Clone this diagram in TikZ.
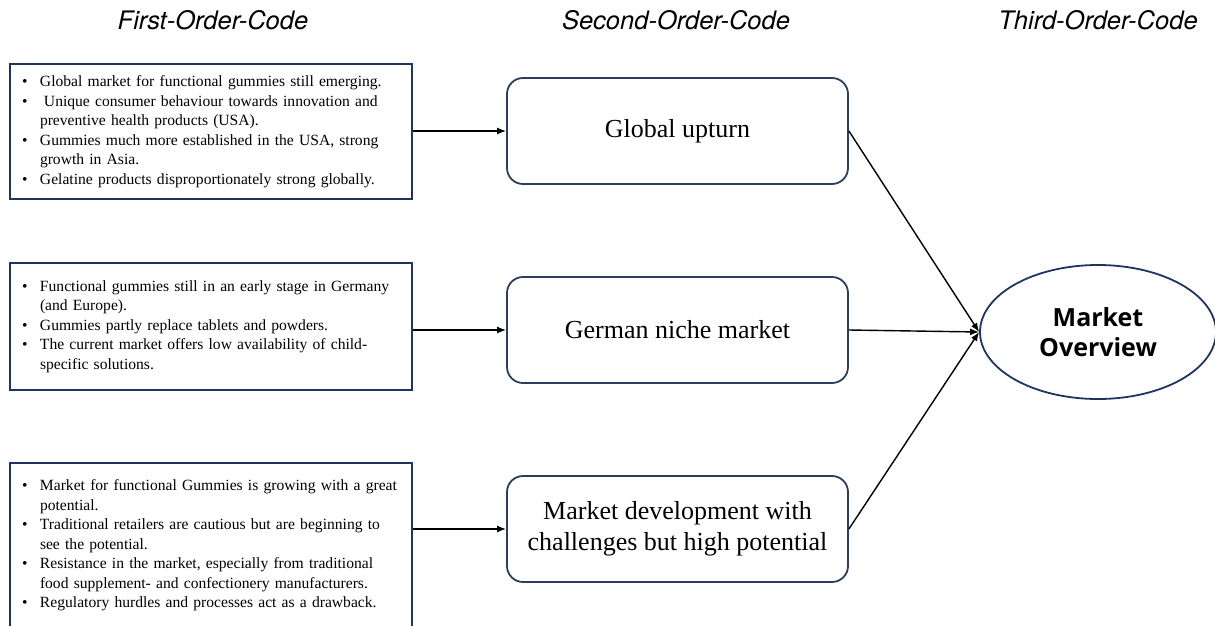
\documentclass[tikz,border=0pt]{standalone}
\usepackage{fontspec}
\setmainfont{Liberation Serif}
\newfontfamily\headfont{TeX Gyre Heros}
\newfontfamily\boldsans{Open Sans}
\usetikzlibrary{shapes.geometric,arrows.meta}

\definecolor{navy}{HTML}{1F3560}
\definecolor{slate}{HTML}{2C3D5E}

% bullet line and continuation line for the first-order boxes
\newcommand{\bul}[1]{\makebox[18pt][l]{\textbullet}#1}
\newcommand{\cont}[1]{\hspace*{18pt}#1}

\tikzset{
  head/.style={font=\headfont\itshape\fontsize{25.5}{30}\selectfont, inner sep=0pt},
  firstbox/.style={draw=navy, line width=1.8pt, text width=378pt, inner xsep=12pt,
    inner ysep=0pt, minimum width=402pt, align=left,
    font=\fontsize{15.6}{19.5}\selectfont},
  secondbox/.style={draw=slate, line width=1.8pt, rounded corners=16pt,
    minimum width=341pt, minimum height=106pt, align=center,
    font=\fontsize{26}{31}\selectfont},
  thirdnode/.style={draw=navy, line width=1.8pt, ellipse, minimum width=236pt,
    minimum height=134pt, inner sep=0pt, align=center,
    font=\boldsans\bfseries\fontsize{25}{30}\selectfont},
  conn/.style={line width=1.4pt, -{Latex[length=9pt,width=7pt]}}
}

\begin{document}
\begin{tikzpicture}[x=1pt, y=-1pt]
\useasboundingbox (0,0) rectangle (1215,625);

% column headings
\node[head] (h1) at (213,20) {First-Order-Code};
\node[head] (h2) at (676,20) {Second-Order-Code};
\node[head] (h3) at (1098,20) {Third-Order-Code};

% first-order codes
\node[firstbox, minimum height=135pt] (f1) at (211,131.5) {%
\bul{Global market for functional gummies still emerging.}\\
\bul{\hspace{4pt}Unique consumer behaviour towards innovation and}\\
\cont{preventive health products (USA).}\\
\bul{Gummies much more established in the USA, strong}\\
\cont{growth in Asia.}\\
\bul{Gelatine products disproportionately strong globally.}};

\node[firstbox, minimum height=127pt] (f2) at (211,326.5) {%
\bul{Functional gummies still in an early stage in Germany}\\
\cont{(and Europe).}\\
\bul{Gummies partly replace tablets and powders.}\\
\bul{The current market offers low availability of child-}\\
\cont{specific solutions.}};

\node[firstbox, minimum height=165pt] (f3) at (211,545.5) {%
\bul{Market for functional Gummies is growing with a great}\\
\cont{potential.}\\
\bul{Traditional retailers are cautious but are beginning to}\\
\cont{see the potential.}\\
\bul{Resistance in the market, especially from traditional}\\
\cont{food supplement- and confectionery manufacturers.}\\
\bul{Regulatory hurdles and processes act as a drawback.}};

% second-order codes
\node[secondbox] (s1) at (677.5,131) {Global upturn};
\node[secondbox] (s2) at (677.5,330) {German niche market};
\node[secondbox] (s3) at (677.5,529) {Market development with\\challenges but high potential};

% third-order code
\node[thirdnode] (t) at (1098,332) {Market\\Overview};

% connectors
\draw[conn] (f1.east |- s1.west) -- (s1.west);
\draw[conn] (f2.east |- s2.west) -- (s2.west);
\draw[conn] (f3.east |- s3.west) -- (s3.west);
\draw[conn] (s1.east) -- (t.west);
\draw[conn] (s2.east) -- (t.west);
\draw[conn] (s3.east) -- (t.west);
\end{tikzpicture}
\end{document}
